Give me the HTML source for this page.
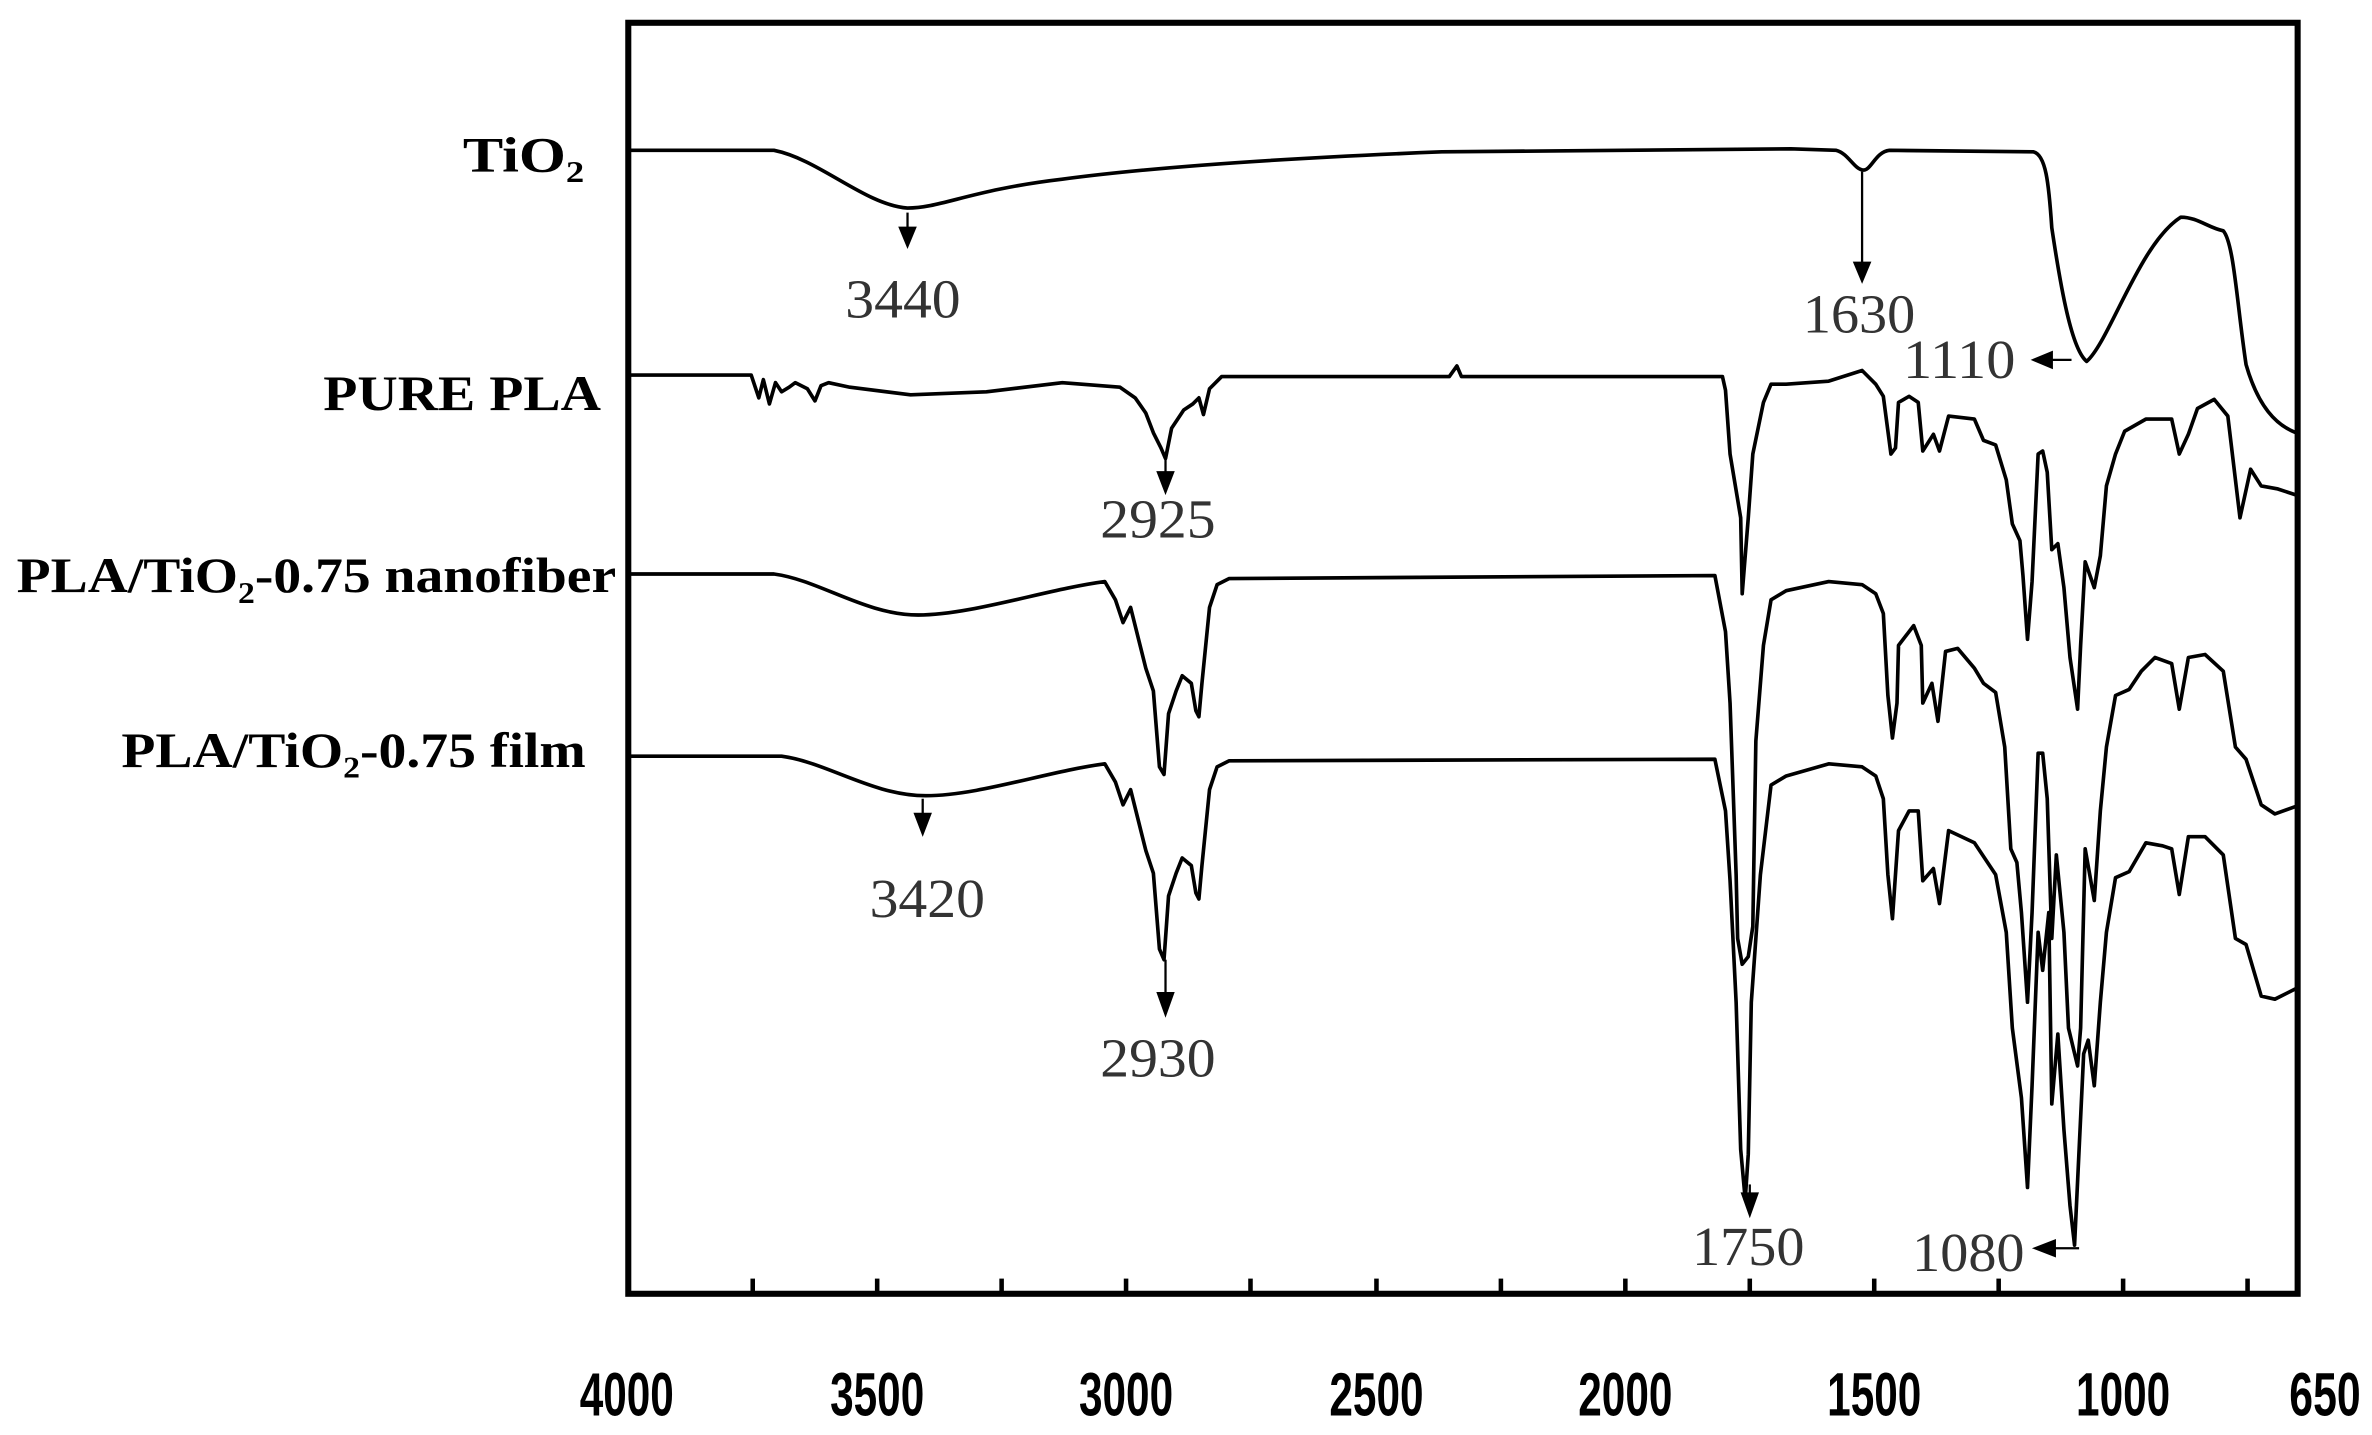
<!DOCTYPE html>
<html><head><meta charset="utf-8"><style>
html,body{margin:0;padding:0;background:#fff;}
svg{display:block;}
.lab{font-family:"Liberation Serif",serif;font-weight:bold;font-size:33px;fill:#000;}
.ann{font-family:"Liberation Serif",serif;font-size:36px;fill:#333;}
.tick{font-family:"Liberation Sans",sans-serif;font-weight:bold;font-size:40px;fill:#000;}
.c{fill:none;stroke:#000;stroke-width:2.4;stroke-linejoin:round;}
</style></head><body>
<svg width="2372" height="1435" viewBox="0 0 1563 945" preserveAspectRatio="none" xmlns="http://www.w3.org/2000/svg">
<rect x="0" y="0" width="1563" height="945" fill="#fff"/>
<rect x="414" y="15" width="1100" height="837" fill="none" stroke="#000" stroke-width="4"/>
<g stroke="#000" stroke-width="3">
<line x1="496" y1="852" x2="496" y2="842"/><line x1="578" y1="852" x2="578" y2="842"/>
<line x1="660" y1="852" x2="660" y2="842"/><line x1="742" y1="852" x2="742" y2="842"/>
<line x1="824" y1="852" x2="824" y2="842"/><line x1="907" y1="852" x2="907" y2="842"/>
<line x1="989" y1="852" x2="989" y2="842"/><line x1="1071" y1="852" x2="1071" y2="842"/>
<line x1="1153" y1="852" x2="1153" y2="842"/><line x1="1235" y1="852" x2="1235" y2="842"/>
<line x1="1317" y1="852" x2="1317" y2="842"/><line x1="1399" y1="852" x2="1399" y2="842"/>
<line x1="1481" y1="852" x2="1481" y2="842"/>
</g>
<g class="tick" text-anchor="middle">
<text x="413" y="932" textLength="62" lengthAdjust="spacingAndGlyphs">4000</text>
<text x="578" y="932" textLength="62" lengthAdjust="spacingAndGlyphs">3500</text>
<text x="742" y="932" textLength="62" lengthAdjust="spacingAndGlyphs">3000</text>
<text x="907" y="932" textLength="62" lengthAdjust="spacingAndGlyphs">2500</text>
<text x="1071" y="932" textLength="62" lengthAdjust="spacingAndGlyphs">2000</text>
<text x="1235" y="932" textLength="62" lengthAdjust="spacingAndGlyphs">1500</text>
<text x="1399" y="932" textLength="62" lengthAdjust="spacingAndGlyphs">1000</text>
<text x="1532" y="932" textLength="47" lengthAdjust="spacingAndGlyphs">650</text>
</g>
<text class="lab" x="305" y="113" textLength="80" lengthAdjust="spacingAndGlyphs">TiO<tspan font-size="20" dy="7">2</tspan></text>
<text class="lab" x="213" y="270" textLength="183" lengthAdjust="spacingAndGlyphs">PURE PLA</text>
<text class="lab" x="11" y="390" textLength="395" lengthAdjust="spacingAndGlyphs">PLA/TiO<tspan font-size="20" dy="7">2</tspan><tspan dy="-7">-0.75 nanofiber</tspan></text>
<text class="lab" x="80" y="505" textLength="306" lengthAdjust="spacingAndGlyphs">PLA/TiO<tspan font-size="20" dy="7">2</tspan><tspan dy="-7">-0.75 film</tspan></text>
<path class="c" stroke-width="3" d="M414,99 L510,99 C540,105 570,135 598,137 C620,137 640,125 700,118 C760,110 850,104 950,100 L1180,98 L1210,99 C1218,101 1222,112 1228,112 C1233,112 1236,100 1245,99 L1340,100 C1348,102 1350,120 1352,150 C1358,190 1365,230 1375,238 C1390,225 1410,160 1437,143 C1448,143 1455,150 1465,152 C1472,160 1474,200 1480,240 C1488,268 1500,280 1513,285"/>
<path class="c" d="M414,247 L495,247 L500,262 L503,250 L507,266 L511,252 L515,258 L520,255 L524,252 L532,256 L537,264 L541,254 L546,252 L560,255 L600,260 L650,258 L700,252 L738,255 L748,262 L755,272 L760,285 L765,295 L768,302 L772,282 L780,270 L786,266 L790,262 L793,273 L797,256 L805,248 L955,248 L960,241 L963,248 L1135,248 L1137,257 L1140,299 L1147,341 L1148,391 L1152,341 L1155,299 L1162,265 L1167,253 L1177,253 L1205,251 L1227,244 L1236,253 L1241,261 L1246,299 L1249,295 L1251,265 L1258,261 L1264,265 L1267,297 L1274,286 L1278,297 L1284,274 L1301,276 L1307,290 L1315,293 L1322,316 L1326,345 L1331,356 L1333,379 L1336,421 L1339,383 L1343,299 L1346,297 L1349,311 L1352,362 L1356,358 L1360,387 L1364,433 L1369,467 L1371,425 L1374,370 L1380,387 L1384,366 L1388,320 L1394,299 L1400,284 L1414,276 L1431,276 L1436,299 L1442,286 L1448,269 L1459,263 L1468,274 L1476,341 L1483,309 L1490,320 L1501,322 L1513,326"/>
<path class="c" d="M414,378 L510,378 C540,382 570,405 605,405 C640,405 690,388 728,383 L735,395 L740,410 L745,400 L750,420 L755,440 L760,455 L764,505 L767,510 L770,470 L775,455 L779,445 L785,450 L788,468 L790,472 L792,450 L797,400 L802,385 L810,381 L1130,379 L1137,416 L1140,463 L1144,576 L1145,618 L1148,635 L1152,630 L1155,610 L1157,488 L1162,425 L1167,395 L1177,389 L1205,383 L1227,385 L1236,391 L1241,404 L1244,458 L1247,486 L1250,463 L1251,425 L1261,412 L1266,425 L1267,463 L1273,450 L1277,475 L1282,429 L1290,427 L1301,440 L1307,450 L1315,456 L1321,492 L1325,559 L1329,568 L1332,601 L1336,660 L1339,601 L1343,496 L1346,496 L1349,526 L1352,618 L1355,563 L1360,614 L1363,677 L1369,702 L1371,677 L1374,559 L1380,593 L1384,534 L1388,492 L1394,458 L1403,454 L1411,442 L1420,433 L1431,437 L1436,467 L1442,433 L1453,431 L1465,442 L1473,492 L1480,500 L1490,530 L1499,536 L1513,531"/>
<path class="c" d="M414,498 L515,498 C545,502 575,524 610,524 C645,524 690,508 728,503 L735,515 L740,530 L745,520 L750,540 L755,560 L760,575 L764,625 L767,632 L770,590 L775,575 L779,565 L785,570 L788,588 L790,592 L792,570 L797,520 L802,505 L810,501 L1130,500 L1137,534 L1140,580 L1144,660 L1147,757 L1150,790 L1152,760 L1154,660 L1160,576 L1167,517 L1177,511 L1205,503 L1227,505 L1236,511 L1241,526 L1244,576 L1247,605 L1251,547 L1258,534 L1264,534 L1267,580 L1274,572 L1278,595 L1284,547 L1301,555 L1315,576 L1322,614 L1326,677 L1332,723 L1336,782 L1339,715 L1343,614 L1346,639 L1350,601 L1352,727 L1356,681 L1360,744 L1364,794 L1367,820 L1370,757 L1373,694 L1376,685 L1380,715 L1384,660 L1388,614 L1394,578 L1403,574 L1414,555 L1425,557 L1431,559 L1436,589 L1442,551 L1453,551 L1465,563 L1473,618 L1480,622 L1490,656 L1499,658 L1513,651"/>
<g stroke="#000" stroke-width="1.5" fill="#000">
<line x1="598" y1="140" x2="598" y2="152"/><polygon points="593,150 603,150 598,162"/>
<line x1="1227" y1="113" x2="1227" y2="175"/><polygon points="1222,173 1232,173 1227,185"/>
<line x1="1365" y1="237" x2="1350" y2="237"/><polygon points="1352,232 1352,242 1340,237"/>
<line x1="768" y1="302" x2="768" y2="313"/><polygon points="763,311 773,311 768,324"/>
<line x1="608" y1="526" x2="608" y2="538"/><polygon points="603,536 613,536 608,549"/>
<line x1="768" y1="632" x2="768" y2="656"/><polygon points="763,654 773,654 768,668"/>
<line x1="1153" y1="780" x2="1153" y2="790"/><polygon points="1148,786 1158,786 1153,800"/>
<line x1="1370" y1="822" x2="1352" y2="822"/><polygon points="1354,817 1354,827 1341,822"/>
</g>
<g class="ann">
<text x="557" y="209" textLength="76" lengthAdjust="spacingAndGlyphs">3440</text>
<text x="1188" y="219" textLength="74" lengthAdjust="spacingAndGlyphs">1630</text>
<text x="1254" y="249" textLength="74" lengthAdjust="spacingAndGlyphs">1110</text>
<text x="725" y="354" textLength="76" lengthAdjust="spacingAndGlyphs">2925</text>
<text x="573" y="604" textLength="76" lengthAdjust="spacingAndGlyphs">3420</text>
<text x="725" y="709" textLength="76" lengthAdjust="spacingAndGlyphs">2930</text>
<text x="1115" y="833" textLength="74" lengthAdjust="spacingAndGlyphs">1750</text>
<text x="1260" y="837" textLength="74" lengthAdjust="spacingAndGlyphs">1080</text>
</g>
</svg>
</body></html>
